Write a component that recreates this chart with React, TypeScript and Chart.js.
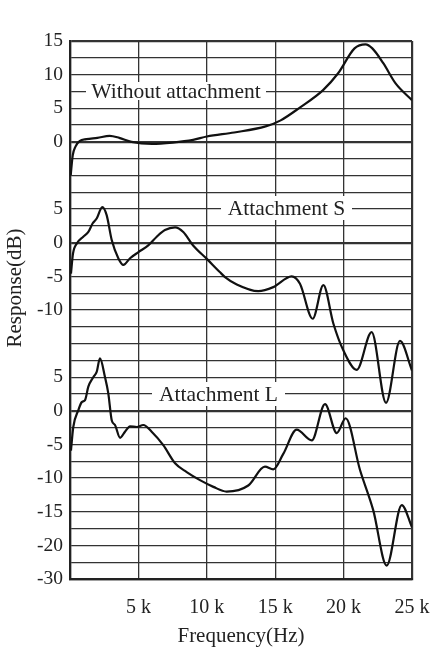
import React, { useEffect, useRef } from "react";
import { Chart, registerables } from "chart.js";

Chart.register(...registerables);

// Frequency in kHz, response in dB
const noneFreq = [0.05, 0.2, 0.4, 0.7, 1.2, 2.0, 2.9, 3.6, 4.5, 6.0, 7.5, 9.0, 10.0, 12.0, 14.3, 15.4, 16.8, 18.5, 19.6, 20.8, 21.6, 22.1, 22.9, 23.8, 25.0];
const noneDb = [-5, -2, -0.7, 0.1, 0.4, 0.6, 0.9, 0.6, 0, -0.3, -0.1, 0.3, 0.8, 1.4, 2.3, 3.2, 5.1, 7.7, 10.2, 13.9, 14.5, 13.9, 11.7, 8.7, 6.2];

const sFreq = [0.07, 0.22, 0.5, 0.97, 1.34, 1.66, 1.95, 2.36, 2.68, 3.05, 3.53, 3.9, 4.39, 5.0, 5.72, 6.34, 6.94, 7.68, 8.28, 9.0, 10.0, 10.97, 11.33, 12.19, 13.76, 14.86, 16.2, 16.81, 17.74, 18.52, 19.25, 19.98, 20.96, 22.05, 23.1, 24.12, 25.0];
const sDb = [-4.6, -1.6, -0.1, 0.9, 1.6, 2.9, 3.6, 5.3, 4.1, 0.4, -2.3, -3.3, -2.3, -1.4, -0.4, 0.9, 1.9, 2.3, 1.6, -0.4, -2.4, -4.4, -5.1, -6.2, -7.2, -6.6, -5.0, -6.1, -11.3, -6.3, -12, -16, -18.9, -13.3, -23.8, -14.6, -19];

const lFreq = [0.07, 0.24, 0.61, 0.86, 1.1, 1.34, 1.7, 1.95, 2.19, 2.56, 2.8, 3.05, 3.29, 3.66, 4.02, 4.39, 4.88, 5.36, 5.97, 6.82, 7.68, 8.53, 9.5, 10.48, 11.45, 13.03, 14.25, 14.86, 15.59, 16.57, 17.67, 18.64, 19.5, 20.15, 21.2, 22.17, 23.15, 24.25, 25.0];
const lDb = [-5.9, -2.4, 0.1, 1.3, 1.6, 3.6, 5.0, 5.8, 7.8, 5.0, 2.6, -1.4, -2.1, -4.0, -3.1, -2.3, -2.4, -2.1, -3.1, -5.1, -7.8, -9.1, -10.3, -11.3, -12.0, -11.1, -8.3, -8.7, -6.4, -2.8, -4.4, 1.0, -3.3, -1.1, -8.8, -14.8, -23.0, -14.0, -17.3];

// Each panel: zero-line position (in grid rows from the top) and its label
const panelNames = ["Without attachment", "Attachment S", "Attachment L"];
const panelZeroRow = [6, 12, 22];
const dbPerRow = 2.5;

// Y tick labels, by grid row from the top
const yTickRows = [0, 2, 4, 6, 10, 12, 14, 16, 20, 22, 24, 26, 28, 30, 32];
const yTickLabels = ["15", "10", "5", "0", "5", "0", "-5", "-10", "5", "0", "-5", "-10", "-15", "-20", "-30"];

const xTicksKHz = [5, 10, 15, 20, 25];
const totalRows = 32;

const FONT = "'Liberation Serif', 'Times New Roman', serif";

function toPoints(freq: number[], db: number[], zeroRow: number) {
  return freq.map((f, i) => ({ x: f * 1000, y: db[i] / dbPerRow - zeroRow }));
}

const labelBoxes = [
  { cx: 176, cy: 91, w: 180, h: 18 },
  { cx: 286.5, cy: 208, w: 131, h: 24 },
  { cx: 218.5, cy: 394, w: 133, h: 24 },
];

const overlayPlugin = {
  id: "overlay",
  beforeDatasetsDraw(chart: any) {
    const ctx = chart.ctx;
    ctx.save();
    ctx.font = `21.5px ${FONT}`;
    ctx.textAlign = "center";
    ctx.textBaseline = "middle";
    panelNames.forEach((name, i) => {
      const b = labelBoxes[i];
      ctx.fillStyle = "#ffffff";
      ctx.fillRect(b.cx - b.w / 2, b.cy - b.h / 2, b.w, b.h);
      ctx.fillStyle = "#222";
      ctx.fillText(name, b.cx, b.cy + 1);
    });
    ctx.restore();
  },
  afterDraw(chart: any) {
    const ctx = chart.ctx;
    const area = chart.chartArea;
    ctx.save();
    ctx.fillStyle = "#222";
    ctx.font = `21px ${FONT}`;
    ctx.textAlign = "center";
    ctx.textBaseline = "alphabetic";
    ctx.fillText("Frequency(Hz)", (area.left + area.right) / 2, 642);
    ctx.translate(15, 288);
    ctx.rotate(-Math.PI / 2);
    ctx.textBaseline = "middle";
    ctx.fillText("Response(dB)", 0, 0);
    ctx.restore();
  },
};

export default function App() {
  const ref = useRef<HTMLCanvasElement>(null);
  useEffect(() => {
    if (!ref.current) return;
    const curves = [
      toPoints(noneFreq, noneDb, panelZeroRow[0]),
      toPoints(sFreq, sDb, panelZeroRow[1]),
      toPoints(lFreq, lDb, panelZeroRow[2]),
    ];
    const chart = new Chart(ref.current, {
      type: "line",
      data: {
        datasets: curves.map((pts, i) => ({
          label: panelNames[i],
          data: pts,
          borderColor: "#111",
          borderWidth: 2.2,
          pointRadius: 0,
          fill: false,
          cubicInterpolationMode: "monotone" as const,
        })),
      },
      options: {
        responsive: false,
        animation: false,
        events: [],
        layout: { padding: { left: 0, right: 22, top: 41, bottom: 0 } },
        plugins: { legend: { display: false }, tooltip: { enabled: false } },
        scales: {
          x: {
            type: "linear",
            min: 0,
            max: 25000,
            afterFit: (s: any) => { s.height = 70; s.paddingLeft = 0; s.paddingRight = 0; },
            afterBuildTicks: (s: any) => {
              s.ticks = [0, ...xTicksKHz].map((k) => ({ value: k * 1000 }));
            },
            ticks: {
              autoSkip: false,
              maxRotation: 0,
              padding: 17,
              color: "#222",
              font: { family: FONT, size: 20 },
              callback: (v: any) => (v === 0 ? "" : `${v / 1000} k`),
            },
            grid: {
              drawTicks: false,
              color: "#333",
              lineWidth: (c: any) => (c.tick && (c.tick.value === 25000 || c.tick.value === 0) ? 2.2 : 1.3),
            },
            border: { display: true, color: "#222", width: 2.2 },
          },
          y: {
            type: "linear",
            min: -totalRows,
            max: 0,
            afterFit: (s: any) => { s.width = 70; s.paddingTop = 0; s.paddingBottom = 0; },
            afterBuildTicks: (s: any) => {
              const t: any[] = [];
              for (let r = 0; r <= totalRows; r++) t.push({ value: -r });
              s.ticks = t;
            },
            ticks: {
              autoSkip: false,
              padding: 7,
              color: "#222",
              font: { family: FONT, size: 19.5 },
              callback: (v: any) => {
                const idx = yTickRows.indexOf(-Math.round(v));
                return idx >= 0 ? yTickLabels[idx] : "";
              },
            },
            grid: {
              drawTicks: false,
              color: "#333",
              lineWidth: (c: any) => {
                const r = c.tick ? -Math.round(c.tick.value) : -1;
                if (r === 0 || r === totalRows) return 2.2;
                return panelZeroRow.includes(r) ? 2.2 : 1.3;
              },
            },
            border: { display: true, color: "#222", width: 2.2 },
          },
        },
      },
      plugins: [overlayPlugin],
    });
    return () => chart.destroy();
  }, []);
  return (
    <div style={{ position: "absolute", left: 0, top: 0, width: 434, height: 649, background: "#fff" }}>
      <canvas ref={ref} width={434} height={649} style={{ display: "block", width: 434, height: 649 }} />
    </div>
  );
}
